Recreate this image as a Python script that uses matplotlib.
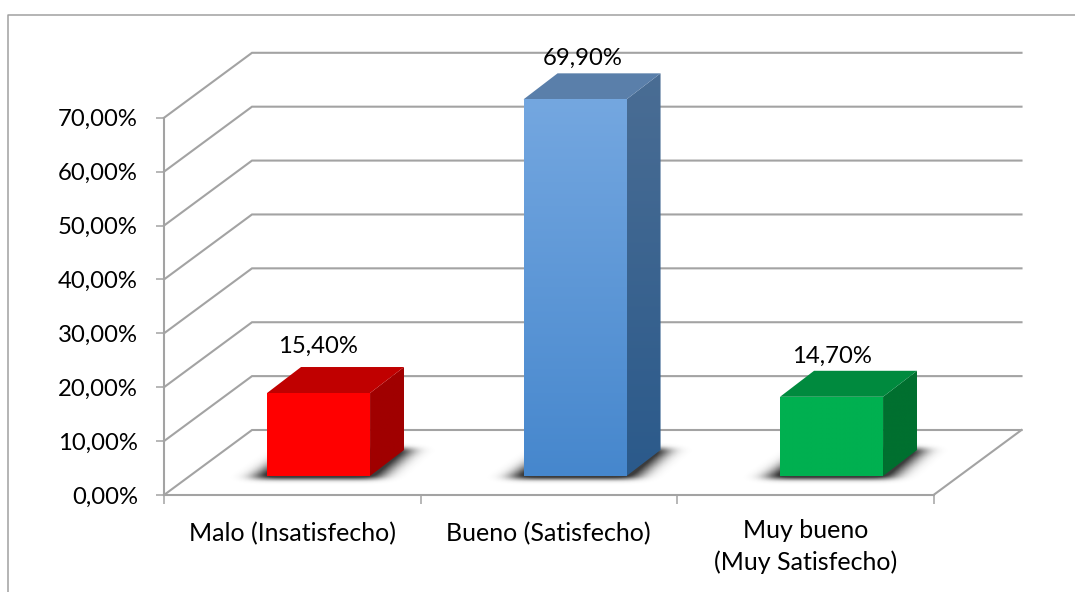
import numpy as np
import matplotlib
matplotlib.use("Agg")
import matplotlib.pyplot as plt
from matplotlib.path import Path
from matplotlib.patches import Polygon
from matplotlib.lines import Line2D
from matplotlib.ticker import FuncFormatter
from matplotlib.transforms import ScaledTranslation

# ---- data ----
categories = ["Malo (Insatisfecho)", "Bueno (Satisfecho)", "Muy bueno\n(Muy Satisfecho)"]
values = [15.4, 69.9, 14.7]
value_labels = ["15,40%", "69,90%", "14,70%"]
y_ticks = [0, 10, 20, 30, 40, 50, 60, 70]

# ---- styles ----
W, H = 1075, 592
GRID = "#a3a3a3"
FONT = "Lato"
FS_Y = 17.2
FS_X = 18.0
front_colors = [("#ff0000", "#ff0000"), ("#74a7e0", "#4687cd"), ("#00b050", "#00b050")]
top_colors = ["#c00000", "#5a7faa", "#008a3e"]
side_colors = [("#a00000", "#a00000"), ("#4a6d94", "#2b5a8b"), ("#00702f", "#00702f")]
label_dx_px = [-1, 8, 0]
label_gap_px = [47, 41, 40]

plt.rcParams["font.family"] = FONT
fig = plt.figure(figsize=(W / 100, H / 100), dpi=100)
fig.patch.set_facecolor("white")

# plot box of the front plane, in figure pixels
L, R, T, B = 164.0, 933.5, 117.8, 495.0
ax = fig.add_axes([L / W, 1 - B / H, (R - L) / W, (B - T) / H])
ax.set_xlim(-0.5, 2.5)
ax.set_ylim(0, 70)
ax.patch.set_alpha(0)
PX = 3.0 / (R - L)          # category units per pixel
PY = 70.0 / (B - T)         # percent per pixel


def px_x(n):
    return n * PX


def px_y(n):
    return n * PY


# outer chart frame (only the left and top edges are visible)
fig.add_artist(Line2D([8 / W, 8 / W, 1], [0, 1 - 14.5 / H, 1 - 14.5 / H],
                      transform=fig.transFigure, color="#a0a0a0", lw=1.1))

# 3D depth offsets
DX, DY = px_x(88), px_y(65)
x0, x1 = ax.get_xlim()

# walls and floor grid lines
for v in y_ticks:
    ax.plot([x0, x0 + DX, x1 + DX], [v, v + DY, v + DY], color=GRID, lw=1.5,
            clip_on=False, zorder=1, solid_joinstyle="miter")
ax.plot([x1, x1 + DX], [0, DY], color=GRID, lw=1.5, clip_on=False, zorder=1)

for s in ["top", "right"]:
    ax.spines[s].set_visible(False)
for s in ["left", "bottom"]:
    ax.spines[s].set_color(GRID)
    ax.spines[s].set_linewidth(1.5)
    ax.spines[s].set_zorder(1)

ax.set_yticks(y_ticks)
ax.yaxis.set_major_formatter(FuncFormatter(lambda v, p: f"{v:.2f}".replace(".", ",") + "%"))
ax.tick_params(axis="y", length=5.8, width=1.1, color=GRID, labelsize=FS_Y, pad=13, labelcolor="#000000")
ax.set_xticks([0, 1, 2])
ax.set_xticklabels(categories, fontsize=FS_X, color="#000000", linespacing=1.42)
ax.tick_params(axis="x", which="major", length=0, pad=17.5)
ax.set_xticks([-0.5, 0.5, 1.5, 2.5], minor=True)
ax.tick_params(axis="x", which="minor", length=6.5, width=1.1, color=GRID)
# single-line category labels sit slightly lower than the two-line one
for lbl in ax.get_xticklabels(which="major")[:2]:
    lbl.set_transform(lbl.get_transform() + ScaledTranslation(0, -3 / 100, fig.dpi_scale_trans))

# bar geometry
BW = px_x(103)                     # front face width
OFFX, OFFY = px_x(26.3), px_y(19)  # offset of the bar in the floor depth
BDX, BDY = px_x(34), px_y(26)      # bar depth


def gradient(poly, c_top, c_bot, ymin, ymax, z):
    """Fill a polygon with a vertical gradient, via a clipped image."""
    a = np.array(matplotlib.colors.to_rgb(c_top))
    b = np.array(matplotlib.colors.to_rgb(c_bot))
    t = np.linspace(0, 1, 128)[:, None, None]
    img = a[None, None, :] * (1 - t) + b[None, None, :] * t
    xs = [p[0] for p in poly]
    im = ax.imshow(img, extent=[min(xs), max(xs), ymin, ymax], aspect="auto",
                   origin="upper", zorder=z, interpolation="bilinear")
    patch = Polygon(poly, closed=True, transform=ax.transData, fc="none", ec="none",
                    clip_on=False)
    ax.add_patch(patch)
    im.set_clip_box(fig.bbox)
    im.set_clip_path(patch)


def blur(m, sigma, axis):
    r = int(3 * sigma)
    k = np.exp(-np.arange(-r, r + 1) ** 2 / (2.0 * sigma ** 2))
    k /= k.sum()
    return np.apply_along_axis(lambda a: np.convolve(a, k, mode="same"), axis, m)


def shadow(xl, yb):
    """Soft shadow on the floor under a bar."""
    nx, ny = 320, 110
    gx = np.linspace(xl - px_x(60), xl + BW + px_x(100), nx)
    gy = np.linspace(yb - px_y(25), yb + px_y(60), ny)
    mx, my = np.meshgrid(gx, gy)
    sh = Path([(xl - px_x(14), yb - px_y(2.5)),
               (xl + BW + px_x(8), yb - px_y(2.5)),
               (xl + BW + BDX + px_x(9), yb + BDY + px_y(2)),
               (xl + BDX - px_x(5), yb + BDY + px_y(2))])
    m = sh.contains_points(np.c_[mx.ravel(), my.ravel()]).reshape(mx.shape).astype(float)
    m = blur(blur(m, 12.0, 1), 3.0, 0)
    rgba = np.zeros(m.shape + (4,))
    rgba[..., :3] = 0.15
    rgba[..., 3] = np.clip(m * 1.25, 0, 0.9)
    ax.imshow(rgba, extent=[gx[0], gx[-1], gy[0], gy[-1]], origin="lower", aspect="auto",
              zorder=2, interpolation="bilinear", clip_on=False)


for i, v in enumerate(values):
    xc = i + OFFX
    xl, xr = xc - BW / 2, xc + BW / 2
    yb = OFFY
    yt = yb + v
    shadow(xl, yb)
    # side
    gradient([(xr, yb), (xr + BDX, yb + BDY), (xr + BDX, yt + BDY), (xr, yt)],
             side_colors[i][0], side_colors[i][1], yb, yt + BDY, 3)
    # top
    ax.add_patch(Polygon([(xl, yt), (xr, yt), (xr + BDX, yt + BDY), (xl + BDX, yt + BDY)],
                         closed=True, fc=top_colors[i], ec="none", zorder=3, clip_on=False))
    # front
    gradient([(xl, yb), (xr, yb), (xr, yt), (xl, yt)],
             front_colors[i][0], front_colors[i][1], yb, yt, 4)
    # value label
    ax.text(xc + px_x(label_dx_px[i]), yt + px_y(label_gap_px[i]), value_labels[i],
            ha="center", va="center", fontsize=FS_Y, color="#000000", zorder=6, clip_on=False)

ax.set_xlim(x0, x1)
ax.set_ylim(0, 70)
fig.savefig("out.png", dpi=100)
